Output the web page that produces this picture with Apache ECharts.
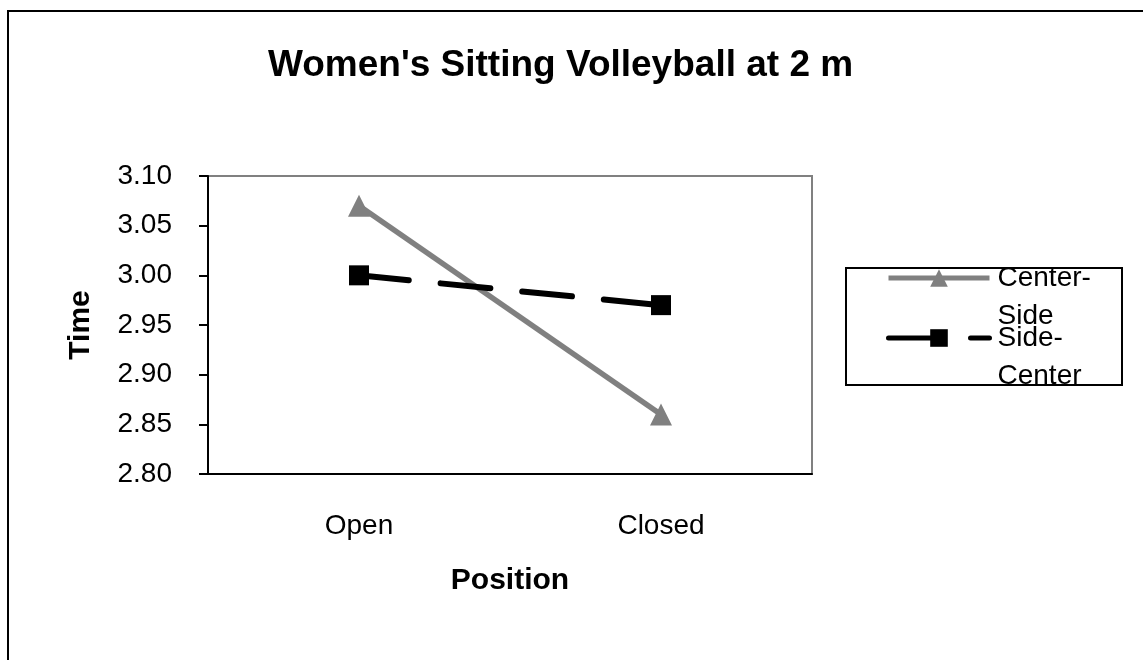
<!DOCTYPE html>
<html>
<head>
<meta charset="utf-8">
<script src="https://cdn.jsdelivr.net/npm/echarts@6/dist/echarts.min.js"></script>
<style>
  html, body { margin: 0; padding: 0; background: #fff; }
  #chart { width: 1143px; height: 660px; }
</style>
</head>
<body>
<div id="chart"></div>
<script>
// chart data
var positions = ['Open', 'Closed'];
var centerSide = [3.07, 2.86];
var sideCenter = [3.00, 2.97];
var yTicks = ['2.80', '2.85', '2.90', '2.95', '3.00', '3.05', '3.10'];

var FONT = 'Liberation Sans, Arial, sans-serif';

var chart = echarts.init(document.getElementById('chart'));

var option = {
    backgroundColor: '#fff',
    animation: false,
    title: {
        text: "Women's Sitting Volleyball at 2 m",
        left: 268,
        top: 47,
        padding: 0,
        textStyle: { fontFamily: FONT, fontSize: 37, fontWeight: 'bold', color: '#000' }
    },
    legend: {
        orient: 'vertical',
        left: 886,
        top: 221,
        padding: 0,
        itemGap: -54,
        itemWidth: 101,
        itemHeight: 22,
        data: ['Center-\nSide', 'Side-\nCenter'],
        formatter: function (name) {
            return '\n' + name; // first line blank so the label's 1st line sits on the icon
        },
        lineStyle: { width: 5 },
        textStyle: {
            fontFamily: FONT, fontSize: 28, color: '#000',
            lineHeight: 38, padding: [0, 0, 0, 3]
        }
    },
    grid: {
        left: 208,
        top: 176,
        right: 331,
        bottom: 186,
        show: true,
        borderColor: '#808080',
        borderWidth: 2,
        backgroundColor: '#fff'
    },
    xAxis: {
        type: 'category',
        data: positions,
        boundaryGap: true,
        name: 'Position',
        nameLocation: 'middle',
        nameGap: 92,
        nameTextStyle: { fontFamily: FONT, fontSize: 30, fontWeight: 'bold', color: '#000' },
        axisLine: { lineStyle: { color: '#000', width: 2 } },
        axisTick: { length: 8, lineStyle: { color: '#000', width: 2 } },
        axisLabel: { margin: 38, fontFamily: FONT, fontSize: 28, color: '#000' },
        splitLine: { show: false }
    },
    yAxis: {
        type: 'value',
        min: 2.8,
        max: 3.1,
        interval: 0.05,
        name: 'Time',
        nameLocation: 'middle',
        nameRotate: 90,
        nameGap: 112,
        nameTextStyle: { fontFamily: FONT, fontSize: 30, fontWeight: 'bold', color: '#000' },
        axisLine: { show: true, lineStyle: { color: '#000', width: 2 } },
        axisTick: { show: true, length: 9, lineStyle: { color: '#000', width: 2 } },
        axisLabel: {
            margin: 36, fontFamily: FONT, fontSize: 28, color: '#000',
            formatter: function (v) {
                var i = Math.round((v - 2.8) / 0.05);
                return yTicks[i] !== undefined ? yTicks[i] : v.toFixed(2);
            }
        },
        splitLine: { show: false }
    },
    series: [{
        name: 'Center-\nSide',
        type: 'line',
        data: centerSide,
        symbol: 'triangle',
        symbolSize: 22,
        itemStyle: { color: '#808080' },
        lineStyle: { color: '#808080', width: 5.5 }
    }, {
        name: 'Side-\nCenter',
        type: 'line',
        data: sideCenter,
        symbol: 'rect',
        symbolSize: 20,
        itemStyle: { color: '#000' },
        lineStyle: { color: '#000', width: 6, type: [50, 32], cap: 'round' }
    }],
    graphic: [{
        type: 'rect',
        shape: { x: 8, y: 11, width: 1200, height: 700 },
        style: { fill: null, stroke: '#000', lineWidth: 2 },
        z: 100
    }, {
        type: 'rect',
        shape: { x: 846, y: 268, width: 276, height: 117 },
        style: { fill: null, stroke: '#000', lineWidth: 2 },
        z: 100
    }]
};

chart.setOption(option);
</script>
</body>
</html>
